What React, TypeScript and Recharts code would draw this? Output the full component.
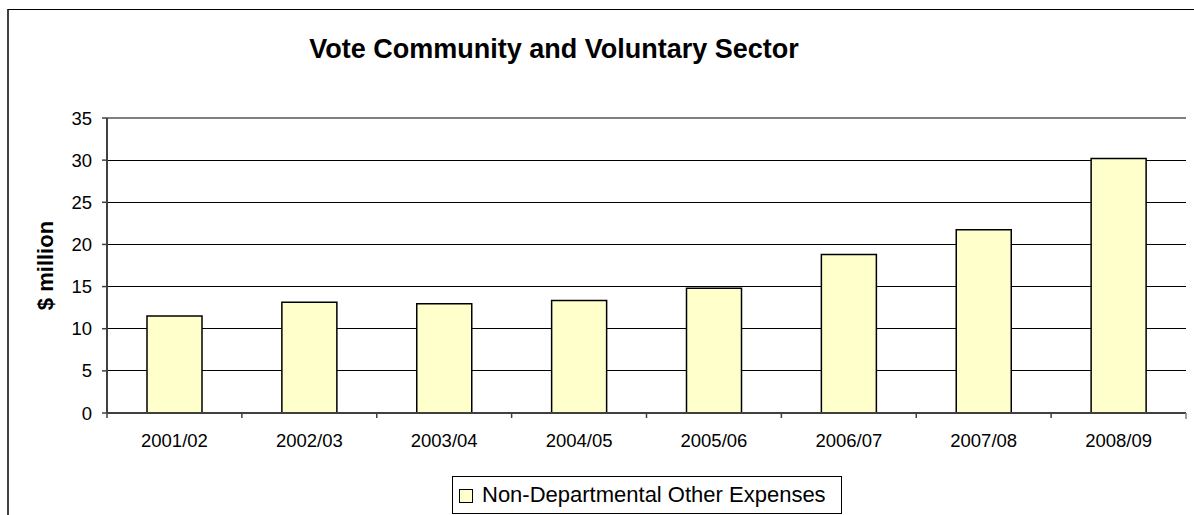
import React from 'react';
import { BarChart, Bar, XAxis, YAxis, CartesianGrid, ReferenceLine } from 'recharts';

const categories = ['2001/02', '2002/03', '2003/04', '2004/05', '2005/06', '2006/07', '2007/08', '2008/09'];
const expenses = [11.5, 13.15, 12.95, 13.35, 14.8, 18.8, 21.75, 30.2];
const yTicks = [0, 5, 10, 15, 20, 25, 30, 35];
const seriesName = 'Non-Departmental Other Expenses';
const chartTitle = 'Vote Community and Voluntary Sector';
const yAxisTitle = '$ million';

const data = categories.map((c, i) => ({ category: c, value: expenses[i] }));

const FONT = '"Liberation Sans", Arial, Helvetica, sans-serif';
const W = 1194;
const H = 515;
const PLOT_LEFT = 107;
const PLOT_RIGHT = 1186;
const PLOT_TOP = 118;
const PLOT_BOTTOM = 413;
const X_AXIS_H = 30;

function XTick(props: any) {
  const { x, y, payload, index } = props;
  const band = (PLOT_RIGHT - PLOT_LEFT) / categories.length;
  const left = x - band / 2;
  const right = x + band / 2;
  return (
    <g>
      <line x1={left} y1={y} x2={left} y2={y + 5} stroke="#404040" strokeWidth={1.5} />
      {index === categories.length - 1 && (
        <line x1={right} y1={y} x2={right} y2={y + 6} stroke="#808080" strokeWidth={1.5} />
      )}
      <text
        x={x}
        y={y + 34}
        textAnchor="middle"
        fontSize={18.5}
        fontFamily={FONT}
        fill="#000"
      >
        {payload.value}
      </text>
    </g>
  );
}

function YTitle(props: any) {
  const vb = props.viewBox || { x: 0, y: PLOT_TOP, height: PLOT_BOTTOM - PLOT_TOP };
  const cx = 45;
  const cy = vb.y + vb.height / 2;
  return (
    <text
      x={cx}
      y={cy}
      transform={`rotate(-90, ${cx}, ${cy})`}
      textAnchor="middle"
      dominantBaseline="central"
      fontSize={22}
      fontWeight="bold"
      fontFamily={FONT}
      fill="#000"
    >
      {yAxisTitle}
    </text>
  );
}

export default function App() {
  return (
    <div
      style={{
        position: 'absolute',
        left: 0,
        top: 0,
        width: W,
        height: H,
        overflow: 'hidden',
        background: '#fff',
        fontFamily: FONT,
      }}
    >
      <div
        style={{
          position: 'absolute',
          left: 7,
          top: 9,
          width: W + 20,
          height: H + 20,
          borderLeft: '2px solid #404040',
          borderTop: '1px solid #000',
        }}
      />
      <div
        style={{
          position: 'absolute',
          left: 0,
          top: 36,
          width: 1108,
          textAlign: 'center',
          fontSize: 27,
          lineHeight: '27px',
          fontWeight: 'bold',
          color: '#000',
          whiteSpace: 'nowrap',
        }}
      >
        {chartTitle}
      </div>
      <div style={{ position: 'absolute', left: 0, top: 0 }}>
        <BarChart
          width={W}
          height={H}
          data={data}
          margin={{ top: PLOT_TOP, right: W - PLOT_RIGHT, left: 0, bottom: H - PLOT_BOTTOM - X_AXIS_H }}
        >
          <CartesianGrid
            vertical={false}
            stroke="#000"
            strokeWidth={1}
            yAxisId="left"
            shapeRendering="crispEdges"
          />
          <XAxis
            dataKey="category"
            height={X_AXIS_H}
            axisLine={{ stroke: '#404040', strokeWidth: 2 }}
            tickLine={false}
            tickSize={0}
            tickMargin={0}
            interval={0}
            tick={<XTick />}
          />
          <YAxis
            yAxisId="left"
            width={PLOT_LEFT}
            domain={[0, 35]}
            ticks={yTicks}
            interval={0}
            axisLine={{ stroke: '#404040', strokeWidth: 2 }}
            tickLine={{ stroke: '#404040', strokeWidth: 1.5 }}
            tickSize={5}
            tickMargin={10}
            tick={{ fontSize: 18.5, fill: '#000', fontFamily: FONT }}
            label={<YTitle />}
          />
          <YAxis
            yAxisId="right"
            orientation="right"
            width={0}
            domain={[0, 35]}
            ticks={yTicks}
            axisLine={{ stroke: '#808080', strokeWidth: 2 }}
            tickLine={false}
            tick={false}
          />
          <ReferenceLine yAxisId="left" y={35} stroke="#808080" strokeWidth={2} />
          <Bar
            yAxisId="left"
            dataKey="value"
            name={seriesName}
            fill="#FFFFCC"
            stroke="#000"
            strokeWidth={1.5}
            barSize={55}
            isAnimationActive={false}
          />
        </BarChart>
      </div>
      <div
        style={{
          position: 'absolute',
          left: 452,
          top: 476,
          width: 390,
          height: 38,
          boxSizing: 'border-box',
          border: '1px solid #000',
          background: '#fff',
        }}
      >
        <div
          style={{
            position: 'absolute',
            left: 6,
            top: 12,
            width: 14,
            height: 14,
            boxSizing: 'border-box',
            border: '1px solid #000',
            background: '#FFFFCC',
          }}
        />
        <div
          style={{
            position: 'absolute',
            left: 29,
            top: 5,
            fontSize: 22,
            lineHeight: '26px',
            color: '#000',
            whiteSpace: 'nowrap',
          }}
        >
          {seriesName}
        </div>
      </div>
    </div>
  );
}
